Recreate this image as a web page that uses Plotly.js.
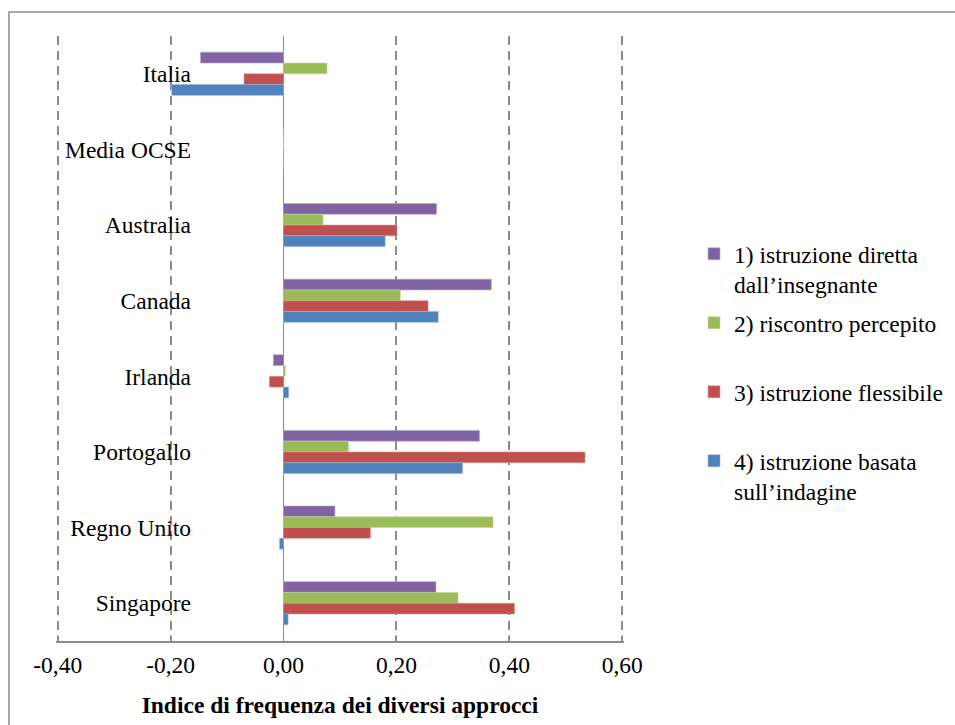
<!DOCTYPE html>
<html>
<head>
<meta charset="utf-8">
<script src="https://cdn.plot.ly/plotly-3.0.1.min.js"></script>
<style>
  html, body { margin: 0; padding: 0; background: #ffffff; }
  #chart { width: 955px; height: 725px; }
</style>
</head>
<body>
<div id="chart"></div>
<script>
// Countries, top to bottom
const countries = ['Italia', 'Media OCSE', 'Australia', 'Canada', 'Irlanda', 'Portogallo', 'Regno Unito', 'Singapore'];

// Index values for each teaching approach
const diretta    = [-0.147, 0, 0.271, 0.368, -0.018, 0.347, 0.091, 0.270];
const riscontro  = [0.077, 0, 0.070, 0.207, 0.003, 0.115, 0.371, 0.309];
const flessibile = [-0.070, 0, 0.201, 0.256, -0.025, 0.534, 0.154, 0.409];
const indagine   = [-0.198, 0, 0.180, 0.274, 0.009, 0.317, -0.007, 0.008];

// Horizontal axis ticks
const tickValues = [-0.4, -0.2, 0, 0.2, 0.4, 0.6];
const tickLabels = ['-0,40', '-0,20', '0,00', '0,20', '0,40', '0,60'];

const seriesNames = [
  '1) istruzione diretta<br>dall\u2019insegnante',
  '2) riscontro percepito',
  '3) istruzione flessibile',
  '4) istruzione basata<br>sull\u2019indagine'
];
const seriesValues = [diretta, riscontro, flessibile, indagine];
const seriesColors = ['#8064A2', '#9BBB59', '#C0504D', '#4F81BD'];
const edgeColors   = ['#b3a2c7', '#c3d69b', '#d99694', '#95b3d7'];
const legendIds    = ['legend', 'legend2', 'legend3', 'legend4'];

const FONT = 'Liberation Serif';

const traces = seriesValues.map((vals, i) => ({
  type: 'bar',
  orientation: 'h',
  name: seriesNames[i],
  y: countries,
  x: vals,
  marker: { color: seriesColors[i], line: { color: edgeColors[i], width: 0.6 } },
  legend: legendIds[i],
  hoverinfo: 'skip'
}));

// Plot area: 56..624 px horizontally, 36..641 px vertically
const ML = 56, MR = 955 - 624, MT = 36, MB = 725 - 641;
const PW = 955 - ML - MR, PH = 725 - MT - MB;
const px = x => (x - ML) / PW;
const py = y => (725 - MB - y) / PH;

function legendAt(xPx, yPx) {
  return {
    x: px(xPx), y: py(yPx), xanchor: 'left', yanchor: 'top',
    valign: 'top', bgcolor: 'rgba(0,0,0,0)', borderwidth: 0,
    font: { family: FONT, size: 23.5, color: '#000000' },
    itemclick: false, itemdoubleclick: false
  };
}

const layout = {
  width: 955,
  height: 725,
  margin: { l: ML, r: MR, t: MT, b: MB, pad: 0, autoexpand: false },
  paper_bgcolor: '#ffffff',
  plot_bgcolor: '#ffffff',
  barmode: 'group',
  bargap: 0.43,
  bargroupgap: 0,
  font: { family: FONT, size: 23.5, color: '#000000' },
  xaxis: {
    range: [-0.403, 0.603],
    tickmode: 'array',
    tickvals: tickValues,
    ticktext: tickLabels,
    showgrid: true,
    gridcolor: '#8c8c8c',
    gridwidth: 2,
    griddash: '9px,6px',
    zeroline: true,
    zerolinecolor: '#8c8c8c',
    zerolinewidth: 1.5,
    showline: true,
    linecolor: '#8c8c8c',
    linewidth: 1.5,
    ticks: 'inside',
    ticklen: 6,
    tickwidth: 1.5,
    tickcolor: '#8c8c8c',
    tickfont: { family: FONT, size: 23.5, color: '#000000' },
    ticklabelstandoff: 2,
    fixedrange: true,
    title: {
      text: '<b>Indice di frequenza dei diversi approcci</b>',
      font: { family: FONT, size: 23.5, color: '#000000' },
      standoff: 20
    }
  },
  yaxis: {
    type: 'category',
    autorange: 'reversed',
    anchor: 'free',
    position: px(191),
    showline: false,
    showgrid: false,
    zeroline: false,
    ticks: '',
    tickfont: { family: FONT, size: 23.5, color: '#000000' },
    fixedrange: true
  },
  legend:  legendAt(694, 232),
  legend2: legendAt(694, 301),
  legend3: legendAt(694, 370),
  legend4: legendAt(694, 439),
  shapes: [
    {
      type: 'rect', xref: 'paper', yref: 'paper',
      x0: px(9), x1: px(970), y0: py(740), y1: py(12),
      line: { color: '#8c8c8c', width: 1.5 }, fillcolor: 'rgba(0,0,0,0)', layer: 'below'
    }
  ],
  showlegend: true
};

Plotly.newPlot('chart', traces, layout, { displayModeBar: false, staticPlot: true });
</script>
</body>
</html>
